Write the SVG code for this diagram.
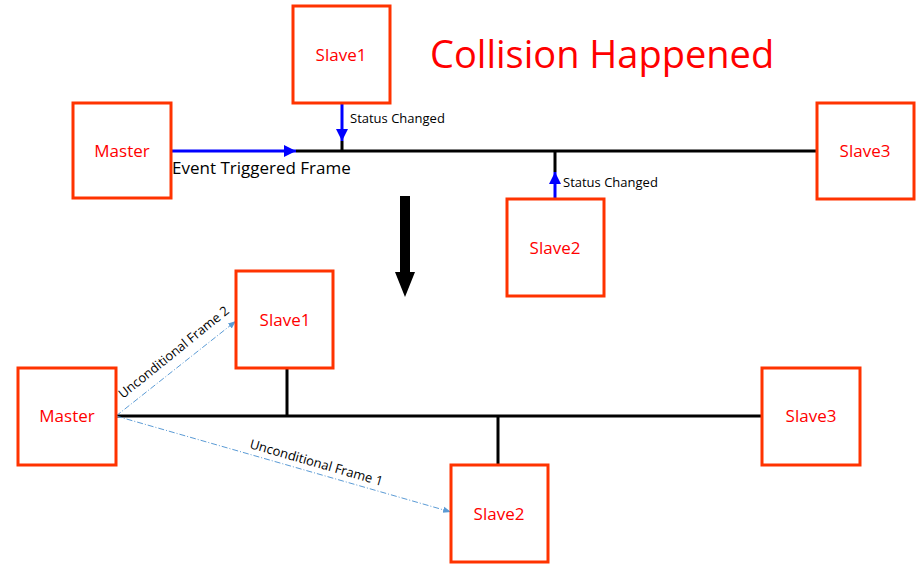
<svg xmlns="http://www.w3.org/2000/svg" width="921" height="569" viewBox="0 0 921 569">
<defs>
<style>
.box{fill:#fff;stroke:#ff3300;stroke-width:3}
.lbl{font-family:"Open Sans","Liberation Sans",sans-serif;font-size:17px;fill:#ff0000;text-anchor:middle}
.bus{stroke:#000;stroke-width:3;fill:none}
.blue{stroke:#0000ff;stroke-width:3;fill:none}
.dash{stroke:#5b9bd5;stroke-width:1;stroke-dasharray:6 2 1 2;fill:none}
.sm{font-family:"Open Sans","Liberation Sans",sans-serif;font-size:13px;fill:#000}
</style>
<marker id="ab" viewBox="0 0 10 10" refX="10" refY="5" markerWidth="4" markerHeight="4" orient="auto"><path d="M0,0L10,5L0,10z" fill="#0000ff"/></marker>
<marker id="ad" viewBox="0 0 10 10" refX="10" refY="5" markerWidth="8" markerHeight="8" orient="auto"><path d="M0,1L10,5L0,9z" fill="#5b9bd5"/></marker>
</defs>
<g id="connectors">
<path class="bus" d="M296,151H817M342,141V151M555,151V172"/>
<path class="blue" d="M171,151H296" marker-end="url(#ab)"/>
<path class="blue" d="M342,103V141" marker-end="url(#ab)"/>
<path class="blue" d="M555,199V172" marker-end="url(#ab)"/>
<path d="M400,196H410V272H415L405,297L395,272H400Z" fill="#000"/>
<path class="bus" d="M116,416H762M287,368V416M498,416V465"/>
<path class="dash" d="M116,416L236,321" marker-end="url(#ad)"/>
<path class="dash" d="M116,416L451,512" marker-end="url(#ad)"/>
<text class="sm" x="350" y="123">Status Changed</text>
<text class="sm" x="563" y="187">Status Changed</text>
<text x="172" y="174" font-family="Open Sans,Liberation Sans,sans-serif" font-size="17">Event Triggered Frame</text>
<text class="sm" transform="translate(123,399) rotate(-39)">Unconditional Frame 2</text>
<text class="sm" transform="translate(249,448) rotate(16)">Unconditional Frame 1</text>
</g>
<text x="430" y="68" font-family="Open Sans,Liberation Sans,sans-serif" font-size="38" fill="#ff0000">Collision Happened</text>
<g id="top-master"><rect class="box" x="73" y="103" width="98" height="95"/><text class="lbl" x="122" y="157">Master</text></g>
<g id="top-slave1"><rect class="box" x="293" y="6" width="97" height="97"/><text class="lbl" x="341" y="61">Slave1</text></g>
<g id="top-slave2"><rect class="box" x="507" y="199" width="97" height="97"/><text class="lbl" x="555" y="254">Slave2</text></g>
<g id="top-slave3"><rect class="box" x="817" y="103" width="97" height="96"/><text class="lbl" x="865" y="157">Slave3</text></g>
<g id="bot-master"><rect class="box" x="18" y="368" width="98" height="97"/><text class="lbl" x="67" y="422">Master</text></g>
<g id="bot-slave1"><rect class="box" x="236" y="271" width="97" height="97"/><text class="lbl" x="285" y="326">Slave1</text></g>
<g id="bot-slave2"><rect class="box" x="451" y="465" width="97" height="97"/><text class="lbl" x="499" y="520">Slave2</text></g>
<g id="bot-slave3"><rect class="box" x="762" y="368" width="98" height="97"/><text class="lbl" x="811" y="422">Slave3</text></g>
</svg>
